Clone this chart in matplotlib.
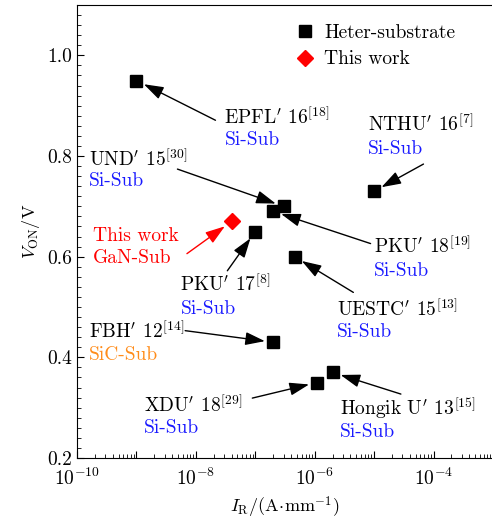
import matplotlib
matplotlib.use("Agg")
import matplotlib.pyplot as plt
from matplotlib.lines import Line2D
from matplotlib.ticker import LogLocator, FuncFormatter, MultipleLocator
import numpy as np

plt.rcParams['font.family'] = 'cmr10'
plt.rcParams['mathtext.fontset'] = 'cm'
plt.rcParams['axes.formatter.use_mathtext'] = True
plt.rcParams['axes.unicode_minus'] = False

# data
labels = ["EPFL", "UND", "PKU17", "PKU18", "NTHU", "UESTC", "FBH", "XDU", "Hongik"]
ir_vals = [1e-9, 3e-7, 1e-7, 2e-7, 1e-5, 4.6e-7, 2e-7, 1.1e-6, 2e-6]
von_vals = [0.95, 0.70, 0.65, 0.69, 0.73, 0.60, 0.43, 0.35, 0.37]
this_ir = [4e-8]
this_von = [0.67]

names = [r"EPFL$'$ 16$^{[18]}$", r"UND$'$ 15$^{[30]}$", r"PKU$'$ 17$^{[8]}$",
         r"PKU$'$ 18$^{[19]}$", r"NTHU$'$ 16$^{[7]}$", r"UESTC$'$ 15$^{[13]}$",
         r"FBH$'$ 12$^{[14]}$", r"XDU$'$ 18$^{[29]}$", r"Hongik U$'$ 13$^{[15]}$"]
subs = ["Si-Sub", "Si-Sub", "Si-Sub", "Si-Sub", "Si-Sub", "Si-Sub",
        "SiC-Sub", "Si-Sub", "Si-Sub"]

# label placement (log10 x, y of name baseline, y of substrate baseline)
name_pos = [(-7.52, 0.863, 0.822), (-9.80, 0.780, 0.741), (-8.26, 0.531, 0.487),
            (-5.01, 0.608, 0.562), (-5.11, 0.850, 0.804), (-5.63, 0.483, 0.440),
            (-9.80, 0.438, 0.394), (-8.87, 0.291, 0.250), (-5.58, 0.285, 0.242)]
# arrow tails (log10 x, y)
tails = [(-7.67, 0.871), (-8.31, 0.774), (-7.47, 0.572), (-5.06, 0.626),
         (-4.17, 0.784), (-5.35, 0.529), (-8.18, 0.453), (-7.05, 0.319),
         (-4.55, 0.327)]

blue = '#1a1aff'
orange = '#ff8c1a'
red = '#ff0000'

fig = plt.figure(figsize=(4.92, 5.19), dpi=100)
ax = fig.add_axes([77/492, 1 - 458/519, 416/492, 453/519])

ax.plot(ir_vals, von_vals, 's', color='k', ms=9, ls='none')
ax.plot(this_ir, this_von, 'D', color=red, ms=8, ls='none')
ax.set_xscale('log')
ax.set_xlim(1e-10, 1e-3)
ax.set_ylim(0.2, 1.1)

arrow = dict(arrowstyle='-|>,head_length=0.6,head_width=0.2', color='k', lw=1,
             mutation_scale=20, shrinkA=0, shrinkB=6)
for i in range(len(labels)):
    lx, ny, sy = name_pos[i]
    ax.text(10**lx, ny, names[i], fontsize=14, va='baseline', ha='left')
    col = orange if subs[i] == "SiC-Sub" else blue
    ax.text(10**lx, sy, subs[i], fontsize=14, va='baseline', ha='left', color=col)
    tx, ty = tails[i]
    ax.annotate("", xy=(ir_vals[i], von_vals[i]), xytext=(10**tx, ty), arrowprops=arrow)

# this work
ax.text(10**-9.73, 0.632, "This work", fontsize=14, va='baseline', color=red)
ax.text(10**-9.73, 0.588, "GaN-Sub", fontsize=14, va='baseline', color=red)
arrow_r = dict(arrow, color=red)
ax.annotate("", xy=(this_ir[0], this_von[0]), xytext=(10**-8.15, 0.606), arrowprops=arrow_r)

# ticks
ax.xaxis.set_major_locator(LogLocator(base=10, numticks=20))
ax.xaxis.set_minor_locator(LogLocator(base=10, subs=np.arange(2, 10), numticks=20))
ax.xaxis.set_major_formatter(FuncFormatter(
    lambda v, p: r"$10^{%d}$" % round(np.log10(v)) if round(np.log10(v)) % 2 == 0 else ""))
ax.yaxis.set_major_locator(MultipleLocator(0.2))
ax.yaxis.set_minor_locator(MultipleLocator(0.02))
ax.yaxis.set_major_formatter(FuncFormatter(lambda v, p: "%.1f" % v))
ax.tick_params(which='both', direction='in')
ax.tick_params(axis='x', labelsize=14, pad=7)
ax.tick_params(axis='y', labelsize=14)
ax.tick_params(which='major', length=5, width=0.8)
ax.tick_params(which='minor', length=3, width=0.6)

ax.set_xlabel(r"$I_{\rm R}/({\rm A}\!\cdot\!{\rm mm}^{-1})$", fontsize=13)
ax.set_ylabel(r"$V_{\rm ON}/{\rm V}$", fontsize=13)

handles = [Line2D([], [], marker='s', color='k', ls='none', ms=9),
           Line2D([], [], marker='D', color=red, ls='none', ms=8)]
ax.legend(handles, ["Heter-substrate", "This work"], loc='upper right', frameon=False,
          fontsize=14, handletextpad=0.5, borderaxespad=0.8, handlelength=1.0,
          labelspacing=0.45, bbox_to_anchor=(0.965, 1.01))

fig.savefig("out.png", dpi=100)
